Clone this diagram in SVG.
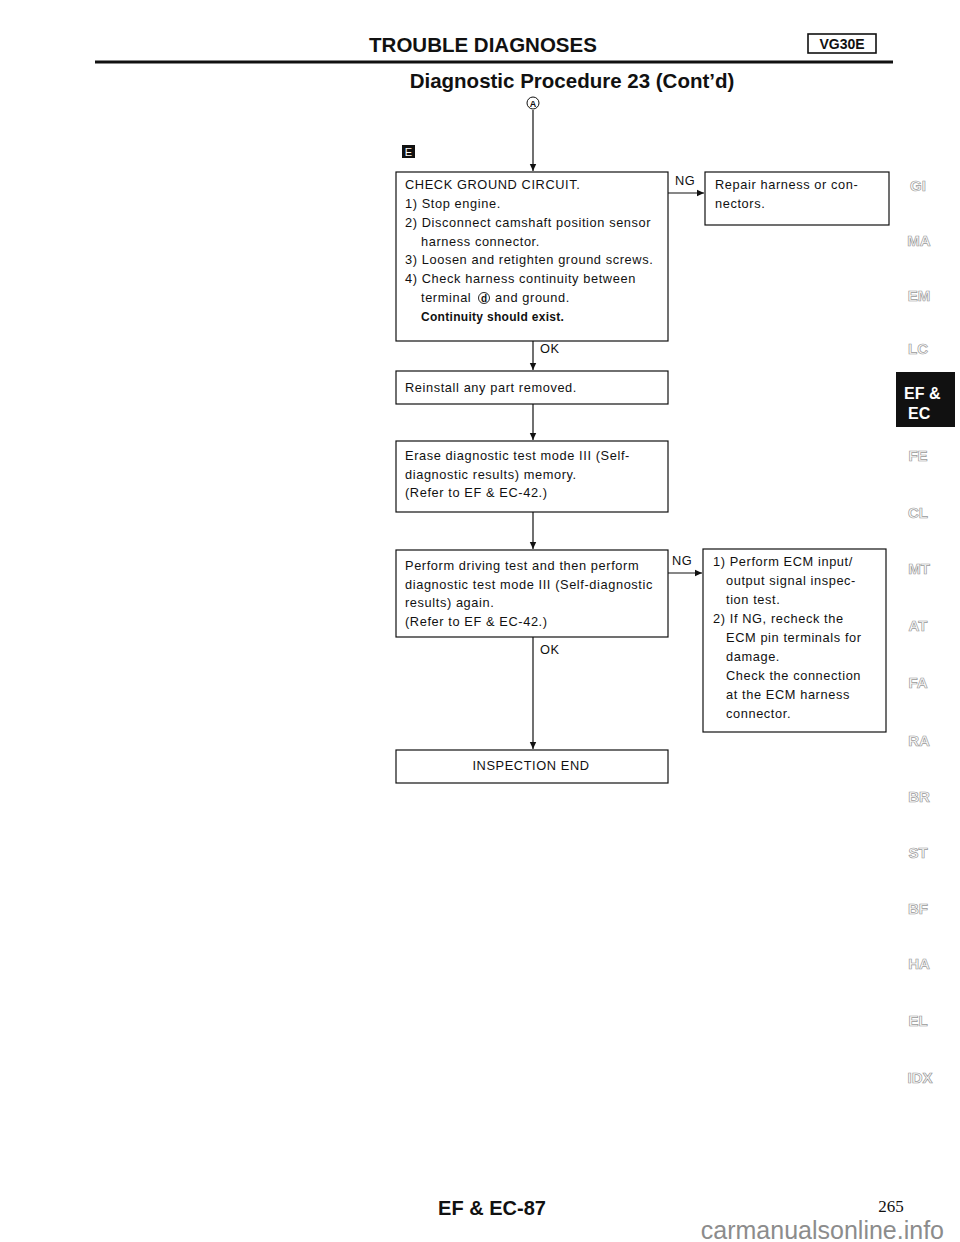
<svg xmlns="http://www.w3.org/2000/svg" width="960" height="1242" viewBox="0 0 960 1242">
<style>
.t{font-family:"Liberation Sans",Arial,sans-serif;font-size:12.8px;letter-spacing:0.6px;fill:#111}
.b{font-weight:bold}
.box{fill:#fff;stroke:#111;stroke-width:1.2}
.ln{stroke:#111;stroke-width:1.2;fill:none}
.side{font-family:"Liberation Sans",Arial,sans-serif;font-size:15px;font-weight:bold;fill:#fff;stroke:#999;stroke-width:0.7;text-anchor:middle}
</style>
<defs>
<marker id="ah" markerWidth="8" markerHeight="8" refX="7" refY="4" orient="auto" markerUnits="userSpaceOnUse">
<path d="M0,0.8 L7,4 L0,7.2 Z" fill="#111"/>
</marker>
</defs>
<rect width="960" height="1242" fill="#fff"/>

<g id="header">
<text x="483" y="52" class="t b" style="font-size:20.5px;letter-spacing:0" text-anchor="middle">TROUBLE DIAGNOSES</text>
<rect x="808" y="34" width="68" height="19" fill="#fff" stroke="#111" stroke-width="1.6"/>
<text x="842" y="49" class="t b" style="font-size:14px;letter-spacing:0" text-anchor="middle">VG30E</text>
<line x1="95" y1="62" x2="893" y2="62" stroke="#111" stroke-width="3"/>
<text x="572" y="88" class="t b" style="font-size:20.5px;letter-spacing:0" text-anchor="middle">Diagnostic Procedure 23 (Cont’d)</text>
</g>

<g id="connectorA">
<circle cx="533" cy="103" r="6" fill="#fff" stroke="#111" stroke-width="1"/>
<text x="533" y="107" class="t b" style="font-size:9px;letter-spacing:0" text-anchor="middle">A</text>
</g>

<g id="iconE">
<rect x="402" y="145" width="13" height="13" fill="#111"/>
<text x="408.5" y="156" class="t" style="font-size:11px;letter-spacing:0;fill:#fff" text-anchor="middle">E</text>
</g>

<g id="connectors">
<line class="ln" x1="533" y1="110" x2="533" y2="171" marker-end="url(#ah)"/>
<line class="ln" x1="668" y1="193" x2="704" y2="193" marker-end="url(#ah)"/>
<text x="675" y="185" class="t">NG</text>
<line class="ln" x1="533" y1="341" x2="533" y2="370" marker-end="url(#ah)"/>
<text x="540" y="353" class="t">OK</text>
<line class="ln" x1="533" y1="404" x2="533" y2="440" marker-end="url(#ah)"/>
<line class="ln" x1="533" y1="512" x2="533" y2="549" marker-end="url(#ah)"/>
<line class="ln" x1="668" y1="573" x2="702" y2="573" marker-end="url(#ah)"/>
<text x="672" y="565" class="t">NG</text>
<line class="ln" x1="533" y1="637" x2="533" y2="749" marker-end="url(#ah)"/>
<text x="540" y="654" class="t">OK</text>
</g>

<g id="n1">
<rect class="box" x="396" y="172" width="272" height="169"/>
<text class="t" x="405" y="189">CHECK GROUND CIRCUIT.</text>
<text class="t" x="405" y="208">1) Stop engine.</text>
<text class="t" x="405" y="227">2) Disconnect camshaft position sensor</text>
<text class="t" x="421" y="246">harness connector.</text>
<text class="t" x="405" y="264">3) Loosen and retighten ground screws.</text>
<text class="t" x="405" y="283">4) Check harness continuity between</text>
<text class="t" x="421" y="302">terminal</text>
<circle cx="484" cy="298" r="5.5" fill="#fff" stroke="#111" stroke-width="0.9"/>
<text class="t b" x="484" y="302" style="font-size:10px;letter-spacing:0" text-anchor="middle">d</text>
<text class="t" x="495" y="302">and ground.</text>
<text class="t b" x="421" y="321" style="font-size:12px;letter-spacing:0.3px">Continuity should exist.</text>
</g>

<g id="n2">
<rect class="box" x="705" y="172" width="184" height="53"/>
<text class="t" x="715" y="189">Repair harness or con-</text>
<text class="t" x="715" y="208">nectors.</text>
</g>

<g id="n3">
<rect class="box" x="396" y="371" width="272" height="33"/>
<text class="t" x="405" y="392">Reinstall any part removed.</text>
</g>

<g id="n4">
<rect class="box" x="396" y="441" width="272" height="71"/>
<text class="t" x="405" y="460">Erase diagnostic test mode III (Self-</text>
<text class="t" x="405" y="479">diagnostic results) memory.</text>
<text class="t" x="405" y="497">(Refer to EF &amp; EC-42.)</text>
</g>

<g id="n5">
<rect class="box" x="396" y="550" width="272" height="87"/>
<text class="t" x="405" y="570">Perform driving test and then perform</text>
<text class="t" x="405" y="589">diagnostic test mode III (Self-diagnostic</text>
<text class="t" x="405" y="607">results) again.</text>
<text class="t" x="405" y="626">(Refer to EF &amp; EC-42.)</text>
</g>

<g id="n6">
<rect class="box" x="703" y="549" width="183" height="183"/>
<text class="t" x="713" y="566">1) Perform ECM input/</text>
<text class="t" x="726" y="585">output signal inspec-</text>
<text class="t" x="726" y="604">tion test.</text>
<text class="t" x="713" y="623">2) If NG, recheck the</text>
<text class="t" x="726" y="642">ECM pin terminals for</text>
<text class="t" x="726" y="661">damage.</text>
<text class="t" x="726" y="680">Check the connection</text>
<text class="t" x="726" y="699">at the ECM harness</text>
<text class="t" x="726" y="718">connector.</text>
</g>

<g id="n7">
<rect class="box" x="396" y="750" width="272" height="33"/>
<text class="t" x="531" y="770" text-anchor="middle">INSPECTION END</text>
</g>

<g id="sidebar">
<text class="side" x="918" y="191">GI</text>
<text class="side" x="919" y="246">MA</text>
<text class="side" x="919" y="301">EM</text>
<text class="side" x="918" y="354">LC</text>
<rect x="896" y="372" width="59" height="55" fill="#111"/>
<text x="904" y="399" class="t b" style="font-size:16px;letter-spacing:0;fill:#fff">EF &amp;</text>
<text x="908" y="419" class="t b" style="font-size:16px;letter-spacing:0;fill:#fff">EC</text>
<text class="side" x="918" y="461">FE</text>
<text class="side" x="918" y="518">CL</text>
<text class="side" x="919" y="574">MT</text>
<text class="side" x="918" y="631">AT</text>
<text class="side" x="918" y="688">FA</text>
<text class="side" x="919" y="746">RA</text>
<text class="side" x="919" y="802">BR</text>
<text class="side" x="918" y="858">ST</text>
<text class="side" x="918" y="914">BF</text>
<text class="side" x="919" y="969">HA</text>
<text class="side" x="918" y="1026">EL</text>
<text class="side" x="920" y="1083">IDX</text>
</g>

<g id="footer">
<text x="492" y="1215" class="t b" style="font-size:20px;letter-spacing:0" text-anchor="middle">EF &amp; EC-87</text>
<text x="891" y="1212" style="font-family:'Liberation Serif','Times New Roman',serif;font-size:17px;fill:#111" text-anchor="middle">265</text>
<text x="944" y="1239" style="font-family:'Liberation Sans',Arial,sans-serif;font-size:25px;fill:#8c8c8c" text-anchor="end">carmanualsonline.info</text>
</g>
</svg>
